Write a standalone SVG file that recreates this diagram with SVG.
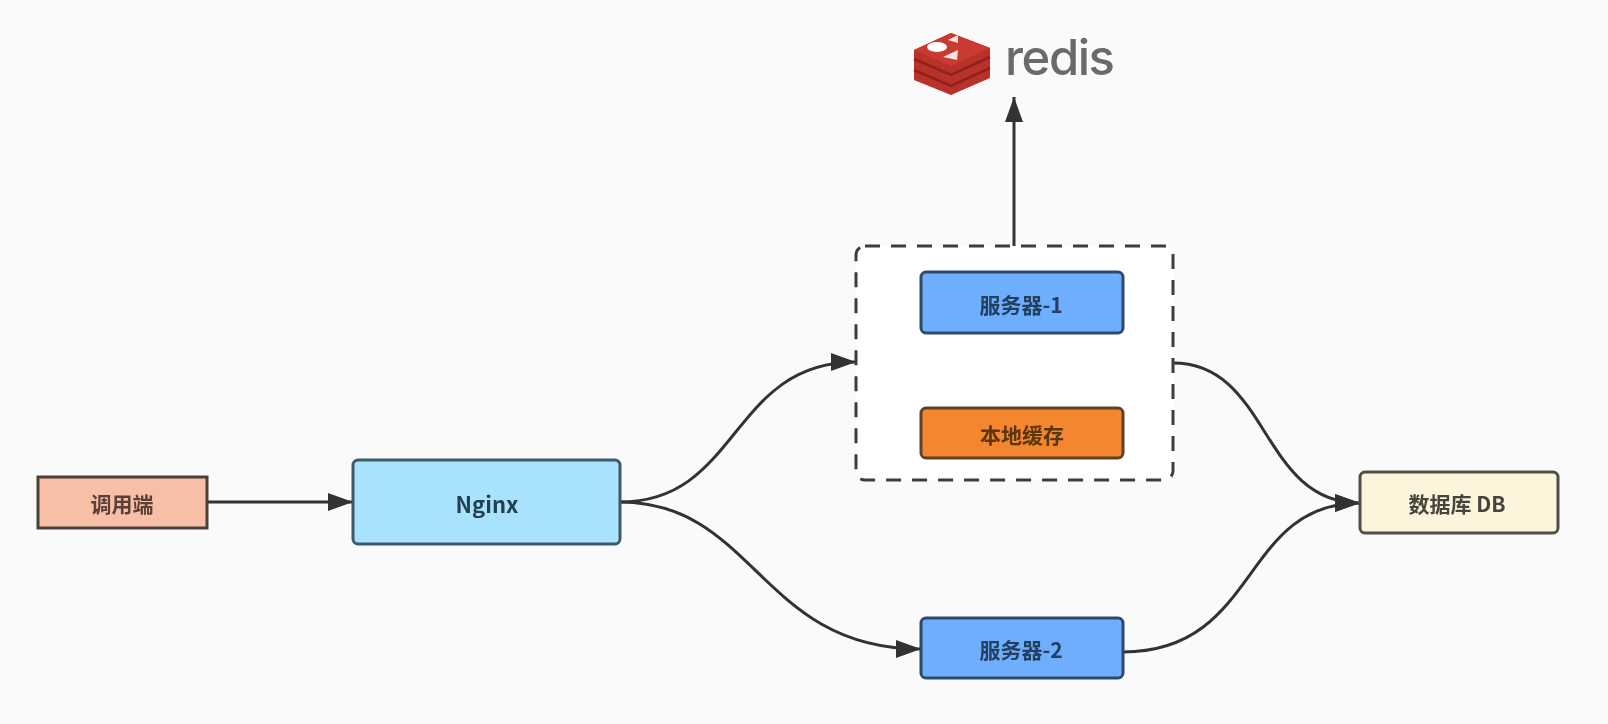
<svg xmlns="http://www.w3.org/2000/svg" width="1608" height="724" viewBox="0 0 1608 724">
<style>
.t{font-family:"Noto Sans CJK SC","Liberation Sans",sans-serif;font-size:21px;font-weight:700;text-anchor:middle;dominant-baseline:central}
.n{stroke-width:3}
.c{fill:none;stroke:#333;stroke-width:3}
</style>
<defs>
<marker id="a" markerUnits="userSpaceOnUse" markerWidth="27" markerHeight="20" refX="26" refY="10" orient="auto"><path d="M1 1L26 10L1 19Z" fill="#333"/></marker>
<filter id="b" x="-2%" y="-2%" width="104%" height="104%"><feGaussianBlur stdDeviation="0.6"/></filter>
</defs>
<rect width="1608" height="724" fill="#fafafa"/>
<g filter="url(#b)">
<g id="connectors">
<path class="c" marker-end="url(#a)" d="M207 502H353"/>
<path class="c" marker-end="url(#a)" d="M620 502C740 502 730 362 856 362"/>
<path class="c" marker-end="url(#a)" d="M620 502C755 502 760 649 921 649"/>
<path class="c" marker-end="url(#a)" d="M1014 246V97"/>
<path class="c" marker-end="url(#a)" d="M1173 363C1270 363 1260 503 1360 503"/>
<path class="c" marker-end="url(#a)" d="M1123 652C1260 652 1240 503 1360 503"/>
</g>
<g id="group-dashed"><rect x="856" y="246" width="317" height="234" rx="9" fill="#fff" stroke="#3c3c3c" stroke-width="3" stroke-dasharray="15 11"/></g>
<g id="caller"><rect class="n" x="38" y="477" width="169" height="51" fill="#f6bfa6" stroke="#4d4038"/><text class="t" x="122" y="503" fill="#5a4036">调用端</text></g>
<g id="nginx"><rect class="n" x="353" y="460" width="267" height="84" rx="5" fill="#a9e2fc" stroke="#3c5a6b"/><text class="t" x="487" y="503" fill="#24404f" font-size="22" style="font-size:22px">Nginx</text></g>
<g id="server1"><rect class="n" x="921" y="272" width="202" height="61" rx="5" fill="#6eaefc" stroke="#2d4a6b"/><text class="t" x="1021" y="304" fill="#23405f">服务器-1</text></g>
<g id="cache"><rect class="n" x="921" y="408" width="202" height="50" rx="5" fill="#f3862f" stroke="#5f4225"/><text class="t" x="1022" y="434" fill="#5a3510">本地缓存</text></g>
<g id="server2"><rect class="n" x="921" y="618" width="202" height="60" rx="5" fill="#6eaefc" stroke="#2d4a6b"/><text class="t" x="1021" y="649" fill="#23405f">服务器-2</text></g>
<g id="db"><rect class="n" x="1360" y="472" width="198" height="61" rx="5" fill="#fdf4dc" stroke="#4f4f47"/><text class="t" x="1457" y="503" fill="#44443e">数据库 DB</text></g>
<g id="redis">
<path d="M914 50L951 33L990 48V78L951 95L914 80Z" fill="#b8302a"/>
<path d="M914 50L951 66L990 48L951 33Z" fill="#c93a30"/>
<path d="M914 59L951 75L990 57M914 70L951 86L990 68" fill="none" stroke="#8f231e" stroke-width="2.500"/>
<ellipse cx="937" cy="47" rx="10" ry="5" fill="#fff"/>
<path d="M948 40L958 35L958 43Z M943 57L958 50L957 60Z" fill="#fbe3df"/>
<text x="1005" y="75" font-family="Inter,'Liberation Sans',sans-serif" font-size="49" font-weight="500" fill="#6b6b6b" textLength="110" lengthAdjust="spacing">redis</text>
</g>
</g>
</svg>
